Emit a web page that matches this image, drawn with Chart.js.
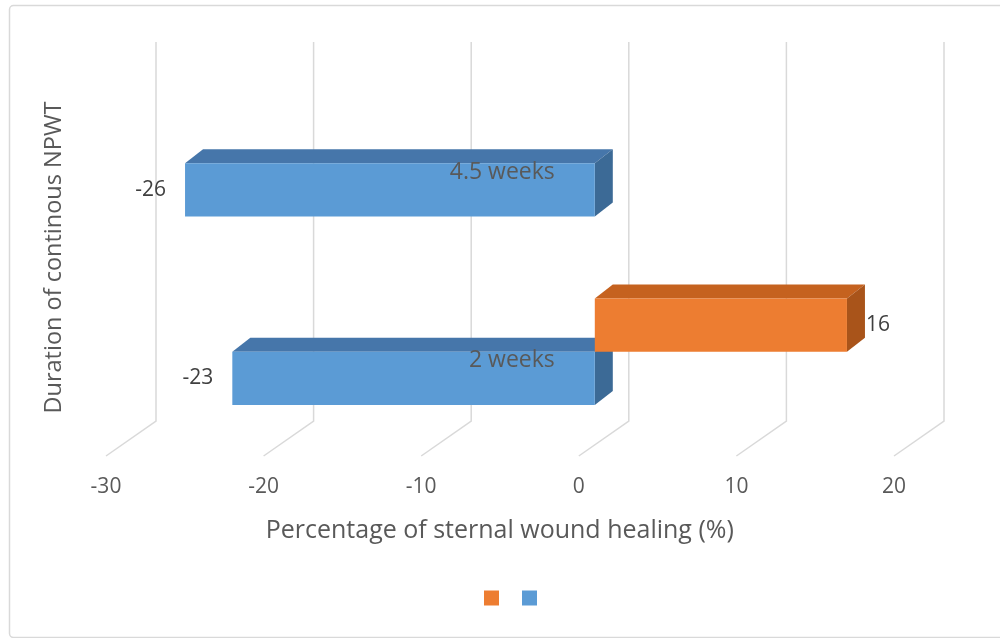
<!DOCTYPE html>
<html>
<head>
<meta charset="utf-8">
<script src="https://cdn.jsdelivr.net/npm/chart.js@4/dist/chart.umd.min.js"></script>
<style>
  html, body { margin: 0; padding: 0; background: #ffffff; }
  #wrap { width: 1000px; height: 638px; }
</style>
</head>
<body>
<div id="wrap"><canvas id="chart" width="1000" height="638"></canvas></div>
<script>
// Duration categories (top to bottom) and the two series
const categories = ['4.5 weeks', '2 weeks'];
const orangeValues = [null, 16];
const blueValues = [-26, -23];
const xTicks = [-30, -20, -10, 0, 10, 20];
const xTitle = 'Percentage of sternal wound healing (%)';
const yTitle = 'Duration of continous NPWT';

const FONT = "'Open Sans', 'DejaVu Sans', sans-serif";
const TEXT = '#595959';

// Pseudo-3D look: bars sit inside a box whose back wall is shifted up/right
const DEPTH = { wallDx: 34, floorDx: -16, wallTop: -27, wallBottom: -25, floorY: 10, barDx: 18, barDy: 14 };

const faces = {
  orange: { top: '#c5621f', side: '#a9541a' },
  blue:   { top: '#4676aa', side: '#3c6a96' }
};

const framePlugin = {
  id: 'frame',
  beforeDraw(chart) {
    const ctx = chart.ctx;
    ctx.save();
    ctx.fillStyle = '#ffffff';
    ctx.fillRect(0, 0, chart.width, chart.height);
    ctx.strokeStyle = '#d9d9d9';
    ctx.lineWidth = 1.5;
    ctx.beginPath();
    ctx.roundRect(9.5, 5.5, chart.width + 10, chart.height - 6, 4);
    ctx.stroke();
    ctx.restore();
  }
};

const wallPlugin = {
  id: 'wall',
  beforeDatasetsDraw(chart) {
    const { ctx, chartArea, scales } = chart;
    const xs = scales.x;
    ctx.save();
    ctx.strokeStyle = '#d9d9d9';
    ctx.lineWidth = 1.5;
    xTicks.forEach(v => {
      const px = xs.getPixelForValue(v);
      ctx.beginPath();
      ctx.moveTo(px + DEPTH.wallDx, chartArea.top + DEPTH.wallTop);
      ctx.lineTo(px + DEPTH.wallDx, chartArea.bottom + DEPTH.wallBottom);
      ctx.lineTo(px + DEPTH.floorDx, chartArea.bottom + DEPTH.floorY);
      ctx.stroke();
    });
    // top and right faces of every bar, behind the front faces
    chart.data.datasets.forEach((ds, di) => {
      const meta = chart.getDatasetMeta(di);
      const f = faces[ds.faceKey];
      meta.data.forEach((el, i) => {
        if (ds.data[i] === null) return;
        const p = el.getProps(['x', 'y', 'base', 'height'], true);
        const l = Math.min(p.x, p.base), r = Math.max(p.x, p.base);
        const t = p.y - p.height / 2, b = p.y + p.height / 2;
        const dx = DEPTH.barDx, dy = DEPTH.barDy;
        ctx.fillStyle = f.top;
        ctx.beginPath();
        ctx.moveTo(l, t); ctx.lineTo(l + dx, t - dy); ctx.lineTo(r + dx, t - dy); ctx.lineTo(r, t);
        ctx.closePath(); ctx.fill();
        ctx.fillStyle = f.side;
        ctx.beginPath();
        ctx.moveTo(r, t); ctx.lineTo(r + dx, t - dy); ctx.lineTo(r + dx, b - dy); ctx.lineTo(r, b);
        ctx.closePath(); ctx.fill();
      });
    });
    ctx.restore();
  }
};

// Category names sit next to the zero line; values sit at the bar ends
const labelPlugin = {
  id: 'barLabels',
  afterDatasetsDraw(chart) {
    const { ctx, scales } = chart;
    ctx.save();
    ctx.textBaseline = 'middle';
    ctx.font = '23px ' + FONT;
    ctx.fillStyle = TEXT;
    ctx.textAlign = 'right';
    const zeroX = scales.x.getPixelForValue(0);
    categories.forEach((c, i) => {
      ctx.fillText(c, zeroX - 40, scales.y.getPixelForValue(i) + 9);
    });

    ctx.font = '21px ' + FONT;
    ctx.fillStyle = '#404040';
    chart.data.datasets.forEach((ds, di) => {
      const meta = chart.getDatasetMeta(di);
      meta.data.forEach((el, i) => {
        const v = ds.data[i];
        if (v === null) return;
        const p = el.getProps(['x', 'y', 'base', 'height'], true);
        if (v < 0) {
          ctx.textAlign = 'right';
          ctx.fillText(String(v), Math.min(p.x, p.base) - 19, p.y);
        } else {
          ctx.textAlign = 'left';
          ctx.fillText(String(v), Math.max(p.x, p.base) + DEPTH.barDx + 1, p.y);
        }
      });
    });
    ctx.restore();
  }
};

new Chart(document.getElementById('chart'), {
  type: 'bar',
  data: {
    labels: categories,
    datasets: [
      { label: '', data: orangeValues, backgroundColor: '#ed7d31', borderWidth: 0, faceKey: 'orange',
        barPercentage: 1, categoryPercentage: 0.564 },
      { label: '', data: blueValues, backgroundColor: '#5b9bd5', borderWidth: 0, faceKey: 'blue',
        barPercentage: 1, categoryPercentage: 0.564 }
    ]
  },
  options: {
    indexAxis: 'y',
    responsive: false,
    animation: false,
    layout: { padding: { left: 20, right: 90, top: 69, bottom: 19 } },
    plugins: {
      legend: {
        position: 'bottom',
        fullSize: false,
        labels: { boxWidth: 15, boxHeight: 15, padding: 12, font: { size: 22, family: FONT } }
      },
      tooltip: { enabled: false }
    },
    scales: {
      x: {
        type: 'linear', min: -30, max: 20,
        afterBuildTicks: s => { s.ticks = xTicks.map(v => ({ value: v })); },
        afterFit: s => { s.height = 129; },
        grid: { display: false, drawTicks: false },
        border: { display: false },
        ticks: { color: TEXT, font: { size: 21, family: FONT }, labelOffset: -16, padding: 28 },
        title: { display: true, text: xTitle + '\u00a0'.repeat(5), color: TEXT, font: { size: 25, family: FONT },
                 padding: { top: 0, bottom: 29 } }
      },
      y: {
        type: 'category',
        position: 'left',
        afterFit: s => { s.width = 102; },
        grid: { display: false, drawTicks: false },
        border: { display: false },
        ticks: { display: false },
        title: { display: true, text: yTitle, color: TEXT, font: { size: 23.5, family: FONT },
                 padding: { top: 20, bottom: 0 } }
      }
    }
  },
  plugins: [framePlugin, wallPlugin, labelPlugin]
});
</script>
</body>
</html>
